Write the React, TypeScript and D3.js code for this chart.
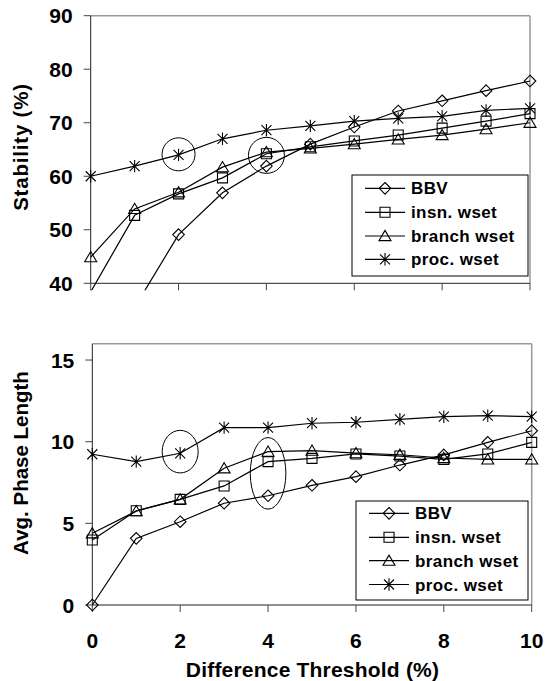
import { scaleLinear, line } from "d3"

// x values (difference threshold, %)
const thresholds = [0, 1, 2, 3, 4, 5, 6, 7, 8, 9, 10]

// Stability (%) — top panel
const stabBBV = [25, 35.5, 49.1, 56.9, 61.9, 66.0, 69.2, 72.2, 74.1, 76.0, 77.8]
const stabInsn = [38.4, 52.7, 56.7, 59.7, 64.2, 65.5, 66.6, 67.7, 69.0, 70.3, 71.7]
const stabBranch = [44.9, 53.9, 57.0, 61.7, 64.5, 65.2, 66.0, 66.9, 67.7, 68.8, 70.0]
const stabProc = [60.0, 61.9, 64.0, 67.0, 68.6, 69.4, 70.3, 70.8, 71.2, 72.3, 72.7]

// Avg. phase length — bottom panel
const lenBBV = [0, 4.08, 5.1, 6.23, 6.69, 7.33, 7.86, 8.57, 9.19, 9.96, 10.67]
const lenInsn = [3.98, 5.77, 6.47, 7.29, 8.78, 8.98, 9.25, 9.12, 8.92, 9.25, 9.96]
const lenBranch = [4.39, 5.75, 6.47, 8.37, 9.39, 9.45, 9.3, 9.2, 9.0, 8.92, 8.92]
const lenProc = [9.23, 8.78, 9.29, 10.86, 10.86, 11.13, 11.19, 11.37, 11.53, 11.59, 11.53]

const seriesNames = ["BBV", "insn. wset", "branch wset", "proc. wset"]
const seriesMarkers = ["diamond", "square", "triangle", "star"]

const xTicks = [0, 2, 4, 6, 8, 10]
const stabTicks = [40, 50, 60, 70, 80, 90]
const lenTicks = [0, 5, 10, 15]

// annotation rings: [x, y] in data units
const stabRings = [[2, 64.1], [4, 63.9]]
const lenRings = [[2, 9.39], [4, 8.06]]

const FONT = "'Liberation Sans', Arial, sans-serif"

function markerPath(kind: string): string {
  switch (kind) {
    case "diamond": return "M0,-5.8L5.8,0L0,5.8L-5.8,0Z"
    case "square": return "M-5,-5H5V5H-5Z"
    case "triangle": return "M0,-5.6L6,4.6H-6Z"
    default: return "M0,-6.2V6.2M-5,-5L5,5M-5,5L5,-5"
  }
}

function Marker({ kind, x, y }: { kind: string; x: number; y: number }) {
  return (
    <path d={markerPath(kind)} transform={`translate(${x},${y})`}
      fill="none" stroke="#000" strokeWidth={1.1} />
  )
}

interface PanelProps {
  id: string
  x0: number; x1: number; y0: number; y1: number
  yDomain: [number, number]
  yTicks: number[]
  series: number[][]
  rings: number[][]
  ringR: [number, number][]
  yTitle: string
  yTitleY: number
  yTitleSpacing: number
  showXLabels: boolean
  legend: { x: number; y: number; w: number; h: number; rowY: number[] }
}

function Panel(p: PanelProps) {
  const x = scaleLinear().domain([0, 10]).range([p.x0, p.x1])
  const y = scaleLinear().domain(p.yDomain).range([p.y1, p.y0])
  const ln = line<number>().x((_, i) => x(thresholds[i])).y(d => y(d))
  const lgLine0 = p.legend.x + 13, lgLine1 = p.legend.x + 53
  const [lo, hi] = p.yDomain
  return (
    <g>
      <defs>
        <clipPath id={p.id}>
          <rect x={p.x0 - 8} y={p.y0} width={p.x1 - p.x0 + 16} height={p.y1 - p.y0 + 7} />
        </clipPath>
      </defs>
      {/* frame */}
      <line x1={p.x0} x2={p.x1} y1={p.y0} y2={p.y0} stroke="#999" strokeWidth={1.5} />
      <line x1={p.x1} x2={p.x1} y1={p.y0} y2={p.y1} stroke="#999" strokeWidth={1.5} />
      <line x1={p.x0} x2={p.x0} y1={p.y0} y2={p.y1} stroke="#222" strokeWidth={1} />
      <line x1={p.x0} x2={p.x1} y1={p.y1} y2={p.y1} stroke="#222" strokeWidth={1} />
      {p.yTicks.map(t => (
        <g key={t}>
          <line x1={p.x0 - 7} x2={p.x0} y1={y(t)} y2={y(t)} stroke="#444" />
          <text x={p.x0 - 18} y={y(t)} dy="0.36em" textAnchor="end" fontFamily={FONT}
            fontWeight="bold" fontSize={21}>{t}</text>
        </g>
      ))}
      {xTicks.map(t => (
        <g key={t}>
          <line x1={x(t)} x2={x(t)} y1={p.y1} y2={p.y1 + 7} stroke="#444" />
          {p.showXLabels && (
            <text x={x(t)} y={p.y1 + 35} dy="0.36em" textAnchor="middle" fontFamily={FONT}
              fontWeight="bold" fontSize={21}>{t}</text>
          )}
        </g>
      ))}
      <text transform={`translate(21,${p.yTitleY}) rotate(-90)`} textAnchor="middle"
        dy="0.36em" fontFamily={FONT} fontWeight="bold" fontSize={20.5}
        letterSpacing={p.yTitleSpacing}>{p.yTitle}</text>

      <g clipPath={`url(#${p.id})`}>
        {p.series.map((s, si) => (
          <path key={si} d={ln(s) ?? ""} fill="none" stroke="#000" strokeWidth={1.2} />
        ))}
        {p.series.map((s, si) => s.map((v, i) => (v >= lo && v <= hi) ? (
          <Marker key={si + "-" + i} kind={seriesMarkers[si]} x={x(thresholds[i])} y={y(v)} />
        ) : null))}
      </g>

      {p.rings.map(([rx, ry], i) => (
        <ellipse key={i} cx={x(rx)} cy={y(ry)} rx={p.ringR[i][0]} ry={p.ringR[i][1]}
          fill="none" stroke="#000" strokeWidth={1} />
      ))}

      {/* legend */}
      <rect x={p.legend.x} y={p.legend.y} width={p.legend.w} height={p.legend.h}
        fill="#fff" stroke="#000" strokeWidth={1} />
      {seriesNames.map((name, i) => (
        <g key={name}>
          <line x1={lgLine0} x2={lgLine1} y1={p.legend.rowY[i]} y2={p.legend.rowY[i]} stroke="#000" strokeWidth={1.2} />
          <Marker kind={seriesMarkers[i]} x={(lgLine0 + lgLine1) / 2} y={p.legend.rowY[i]} />
          <text x={lgLine1 + 6} y={p.legend.rowY[i]} dy="0.36em" fontFamily={FONT}
            fontWeight="bold" fontSize={17} letterSpacing={0.4}>{name}</text>
        </g>
      ))}
    </g>
  )
}

export default function App() {
  return (
    <svg width={546} height={681} style={{ position: "absolute", left: 0, top: 0, background: "#fff" }}>
      <Panel id="clipTop" x0={90.7} x1={530} y0={15.7} y1={283.3} yDomain={[40, 90]}
        yTicks={stabTicks} series={[stabBBV, stabInsn, stabBranch, stabProc]}
        rings={stabRings} ringR={[[16.5, 16.5], [18, 18]]}
        yTitle="Stability (%)" yTitleY={147} yTitleSpacing={0.8} showXLabels={false}
        legend={{ x: 352, y: 175, w: 176, h: 101, rowY: [188.3, 212.3, 236, 259.3] }} />
      <Panel id="clipBot" x0={92.3} x1={531.7} y0={343.7} y1={605} yDomain={[0, 16]}
        yTicks={lenTicks} series={[lenBBV, lenInsn, lenBranch, lenProc]}
        rings={lenRings} ringR={[[18, 21.3], [17.8, 35.8]]}
        yTitle="Avg. Phase Length" yTitleY={463} yTitleSpacing={0} showXLabels={true}
        legend={{ x: 356, y: 501, w: 172, h: 99, rowY: [513.3, 537.3, 560.7, 584.5] }} />
      <text x={312.5} y={669} dy="0.36em" textAnchor="middle" fontFamily={FONT}
        fontWeight="bold" fontSize={21} letterSpacing={0.2}>Difference Threshold (%)</text>
    </svg>
  )
}
